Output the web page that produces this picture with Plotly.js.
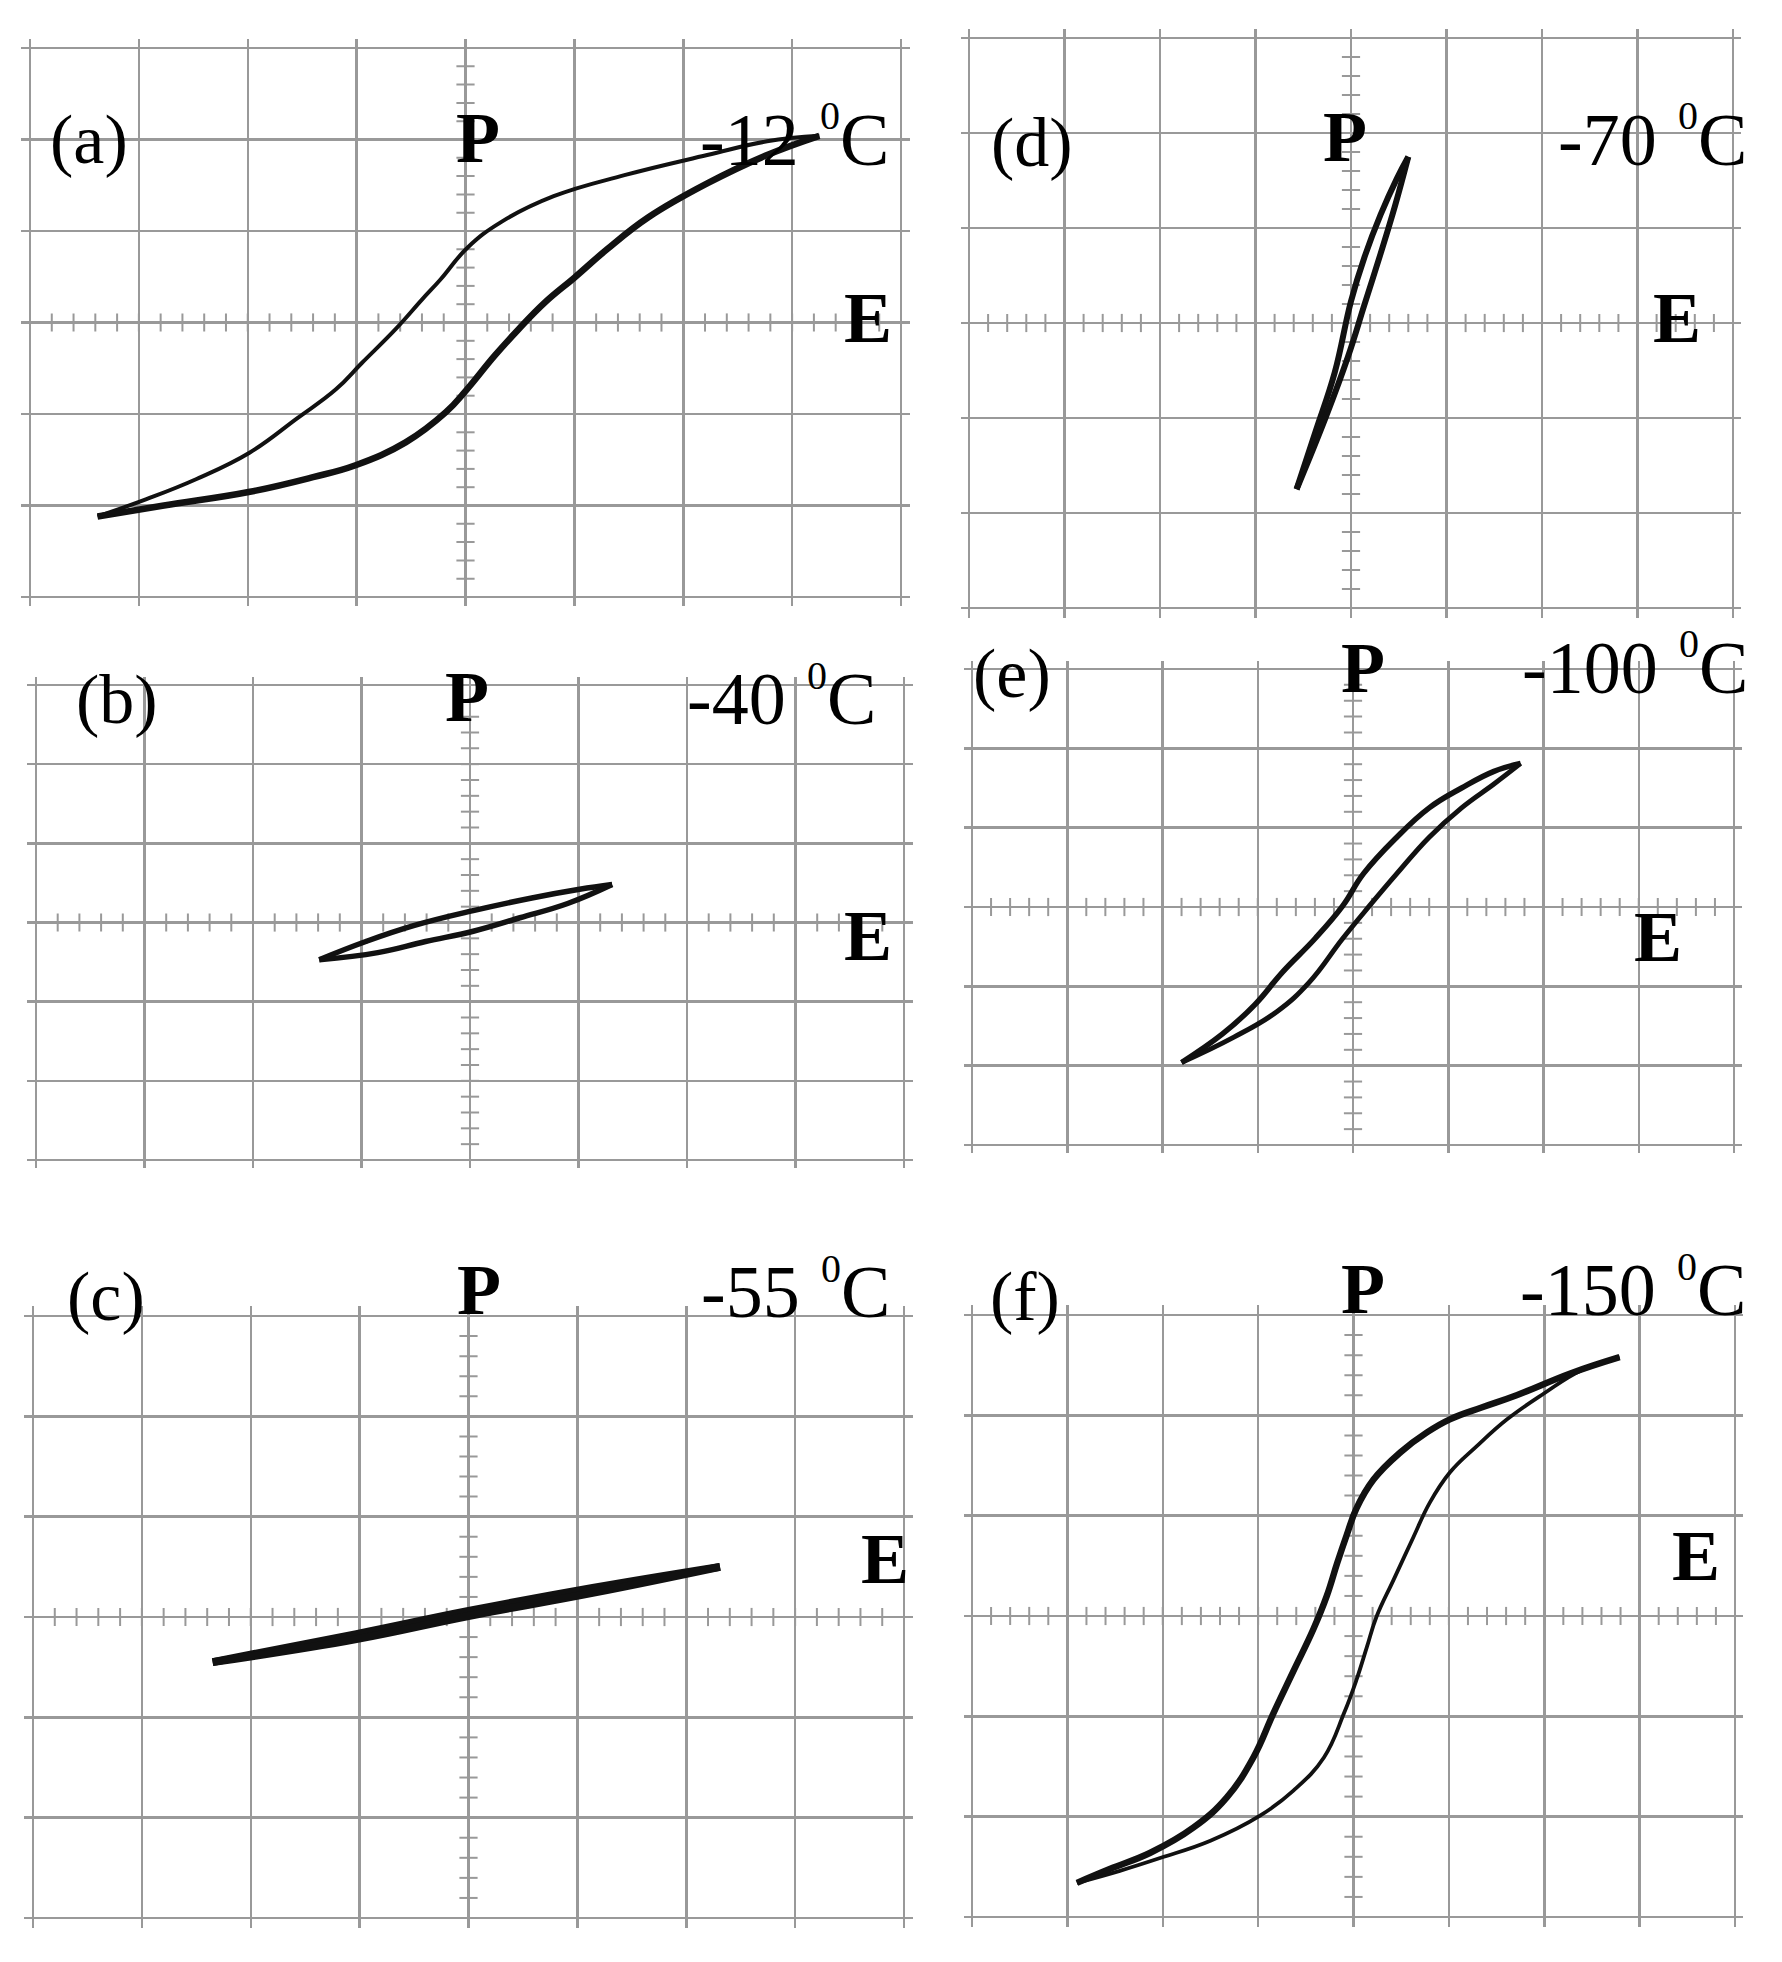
<!DOCTYPE html>
<html>
<head>
<meta charset="utf-8">
<script src="https://cdn.plot.ly/plotly-3.0.1.min.js"></script>
<style>html,body{margin:0;padding:0;background:#fff;}#chart{width:1782px;height:1962px;}</style>
</head>
<body>
<div id="chart"></div>
<script>
// ---- data (E and P in grid divisions, origin at screen centre) ----
// (a) -12 C
const aUpE = [-3.38,-2.93,-2.47,-1.98,-1.55,-1.19,-0.95,-0.64,-0.4,-0.23,0.02,0.33,0.81,1.46,2.22,2.77,3.25];
const aUpP = [-2.12,-1.93,-1.71,-1.42,-1.05,-0.73,-0.44,-0.07,0.25,0.47,0.82,1.1,1.38,1.61,1.83,1.98,2.04];
const aLoE = [-3.38,-2.77,-1.98,-1.4,-1.01,-0.55,-0.18,0.0,0.27,0.49,0.73,1.0,1.3,1.68,2.22,2.77,3.25];
const aLoP = [-2.12,-2.0,-1.85,-1.69,-1.56,-1.31,-0.98,-0.75,-0.36,-0.07,0.22,0.49,0.8,1.15,1.52,1.83,2.04];
// (b) -40 C
const bUpE = [-1.39,-0.96,-0.52,0.03,0.57,1.01,1.31];
const bUpP = [-0.47,-0.24,-0.04,0.15,0.31,0.42,0.48];
const bLoE = [-1.39,-0.85,-0.41,0.03,0.46,0.9,1.31];
const bLoP = [-0.47,-0.38,-0.24,-0.11,0.06,0.24,0.48];
// (c) -55 C
const cUpE = [-2.35,-1.03,0.0,1.14,2.31];
const cUpP = [-0.45,-0.17,0.06,0.29,0.50];
const cLoE = [-2.35,-1.03,0.0,1.14,2.31];
const cLoP = [-0.45,-0.22,0.01,0.24,0.50];
// (d) -70 C
const dUpE = [-0.57,-0.37,-0.17,0.0,0.14,0.31,0.48,0.6];
const dUpP = [-1.75,-1.14,-0.52,0.23,0.69,1.14,1.52,1.75];
const dLoE = [-0.57,-0.26,-0.03,0.14,0.31,0.46,0.6];
const dLoP = [-1.75,-0.98,-0.35,0.19,0.73,1.23,1.75];
// (e) -100 C
const eUpE = [-1.8,-1.37,-1.03,-0.74,-0.4,-0.11,0.11,0.46,0.8,1.14,1.48,1.76];
const eUpP = [-1.96,-1.6,-1.23,-0.82,-0.4,0.01,0.42,0.88,1.25,1.5,1.71,1.81];
const eLoE = [-1.8,-1.25,-0.8,-0.46,-0.11,0.17,0.46,0.8,1.14,1.48,1.76];
const eLoP = [-1.96,-1.64,-1.32,-0.95,-0.4,0.01,0.42,0.88,1.25,1.55,1.81];
// (f) -150 C
const fUpE = [-2.9,-2.55,-2.13,-1.68,-1.33,-1.05,-0.84,-0.63,-0.42,-0.28,-0.17,-0.07,0.03,0.21,0.49,0.77,1.01,1.35,1.71,2.28,2.79];
const fUpP = [-2.66,-2.52,-2.36,-2.11,-1.81,-1.41,-0.97,-0.55,-0.13,0.2,0.53,0.81,1.07,1.36,1.63,1.83,1.96,2.08,2.2,2.42,2.58];
const fLoE = [-2.9,-2.45,-2.02,-1.5,-0.98,-0.63,-0.31,-0.1,0.03,0.14,0.24,0.42,0.63,0.8,1.01,1.29,1.61,2.0,2.39,2.79];
const fLoP = [-2.66,-2.54,-2.41,-2.24,-1.99,-1.74,-1.41,-0.97,-0.64,-0.31,-0.01,0.36,0.79,1.13,1.43,1.69,1.96,2.22,2.45,2.58];

const panelLabels = ['(a)','(b)','(c)','(d)','(e)','(f)'];
const temps = ['-12','-40','-55','-70','-100','-150'];

// ---- layout helpers ----
const W = 1782, H = 1962;
const EX = 0.08, EY = 0.1;
// outer grid-line pixel positions for each panel [x0,x1,y0,y1]
const frames = [
  [30, 901, 48, 597],    // a
  [36, 904, 685, 1160],  // b
  [33, 904, 1316, 1918], // c
  [969, 1733, 38, 608],  // d
  [972, 1734, 669, 1145],// e
  [972, 1735, 1315, 1917]// f
];
function xdom(f){const p=(f[1]-f[0])/8;return [(f[0]-EX*p)/W,(f[1]+EX*p)/W];}
function ydom(f){const p=(f[3]-f[2])/6;return [1-(f[3]+EY*p)/H,1-(f[2]-EY*p)/H];}

const curves = [
  [[aUpE,aUpP,4],[aLoE,aLoP,6.5]],
  [[bUpE,bUpP,5.5],[bLoE,bLoP,5.5]],
  [[cUpE,cUpP,8],[cLoE,cLoP,8]],
  [[dUpE,dUpP,6],[dLoE,dLoP,6]],
  [[eUpE,eUpP,5.5],[eLoE,eLoP,5]],
  [[fUpE,fUpP,6.5],[fLoE,fLoP,3.8]]
];

const gridColor = '#999999';
const traces = [];
const layout = {
  width: W, height: H,
  margin: {l:0,r:0,t:0,b:0},
  paper_bgcolor: '#ffffff',
  plot_bgcolor: '#ffffff',
  showlegend: false,
  hovermode: false,
  annotations: []
};

// minor tick positions along the centre axes
const minorX = [], minorY = [];
for (let i=-20;i<=20;i++) minorX.push(i/5);
for (let i=-15;i<=15;i++) minorY.push(i/5);

frames.forEach((f,k)=>{
  const n = k+1;
  const sfx = (n===1?'':String(n));
  const xa = 'x'+sfx, ya = 'y'+sfx;
  layout['xaxis'+sfx] = {domain: xdom(f), range:[-4-EX,4+EX], tick0:0, dtick:1, showgrid:true,
    gridcolor:gridColor, gridwidth:2.5, zeroline:false, showticklabels:false, ticks:'',
    showline:false, fixedrange:true, anchor: ya};
  layout['yaxis'+sfx] = {domain: ydom(f), range:[-3-EY,3+EY], tick0:0, dtick:1, showgrid:true,
    gridcolor:gridColor, gridwidth:2.5, zeroline:false, showticklabels:false, ticks:'',
    showline:false, fixedrange:true, anchor: xa};

  // minor ticks on the centre lines
  traces.push({x:minorX, y:minorX.map(()=>0), xaxis:xa, yaxis:ya, mode:'markers',
    marker:{symbol:'line-ns', size:13, line:{width:2, color:gridColor}}, hoverinfo:'skip'});
  traces.push({x:minorY.map(()=>0), y:minorY, xaxis:xa, yaxis:ya, mode:'markers',
    marker:{symbol:'line-ew', size:13, line:{width:2, color:gridColor}}, hoverinfo:'skip'});

  curves[k].forEach(c=>{
    traces.push({x:c[0], y:c[1], xaxis:xa, yaxis:ya, mode:'lines',
      line:{color:'#111111', width:c[2], shape:'spline', smoothing:1.2}, hoverinfo:'skip'});
  });
});

// ---- text annotations (pixel positions) ----
const labelPos = [[89,139],[117,699],[106,1296],[1032,143],[1012,673],[1025,1296]];
const pPos = [[478,138],[467,697],[479,1290],[1345,137],[1363,668],[1363,1289]];
// right edge of "C" and its vertical centre
const tPos = [[891,140],[878,699],[892,1292],[1749,140],[1750,668],[1748,1290]];
const ePos = [[868,318],[868,936],[885,1559],[1677,318],[1658,937],[1696,1556]];
const serif = 'Liberation Serif, Times New Roman, serif';
function ann(text, px, py, size, bold, xanchor){
  layout.annotations.push({xref:'paper', yref:'paper', x:px/W, y:1-py/H,
    text: bold?'<b>'+text+'</b>':text, showarrow:false, xanchor:xanchor||'center', yanchor:'middle',
    font:{family:serif, size:size, color:'#000'}});
}
for (let k=0;k<6;k++){
  ann(panelLabels[k], labelPos[k][0], labelPos[k][1], 70, false);
  ann('P', pPos[k][0], pPos[k][1], 72, true);
  const t = tPos[k];
  ann('C', t[0], t[1], 74, false, 'right');
  ann('0', t[0]-61, t[1]-24, 40, false, 'center');
  ann(temps[k], t[0]-90, t[1], 74, false, 'right');
  ann('E', ePos[k][0], ePos[k][1], 72, true);
}

Plotly.newPlot('chart', traces, layout, {staticPlot:true, displayModeBar:false});
</script>
</body>
</html>
